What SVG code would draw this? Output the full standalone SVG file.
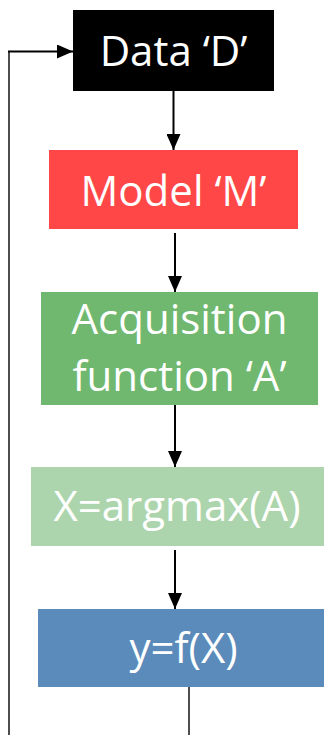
<svg xmlns="http://www.w3.org/2000/svg" width="324" height="735" viewBox="0 0 324 735">
<style>
.t{font-family:"Open Sans","Liberation Sans",sans-serif;font-size:42px;fill:#ffffff;text-anchor:middle}
.c{stroke:#000;stroke-width:2;fill:none}
.g{stroke:#4d4d4d;stroke-width:2;fill:none}
</style>
<defs>
<marker id="ah" markerWidth="16" markerHeight="14" refX="16" refY="7" orient="auto" markerUnits="userSpaceOnUse">
<path d="M0,0 L16,7 L0,14 Z" fill="#000"/>
</marker>
</defs>
<rect width="324" height="735" fill="#fff"/>
<g id="connectors">
<path class="g" d="M9,735 V51.5"/>
<path class="c" d="M8,51.5 H73" marker-end="url(#ah)"/>
<path class="c" d="M173.5,91 V150" marker-end="url(#ah)"/>
<path class="c" d="M175,233 V292" marker-end="url(#ah)"/>
<path class="c" d="M175,405 V467" marker-end="url(#ah)"/>
<path class="c" d="M175,550 V609" marker-end="url(#ah)"/>
<path class="g" d="M189,687 V735"/>
</g>
<g id="data">
<rect x="73" y="10" width="201" height="81" fill="#000"/>
<text class="t" x="173.5" y="66">Data ‘D’</text>
</g>
<g id="model">
<rect x="49" y="150" width="249" height="79" fill="#FF4747"/>
<text class="t" x="173.5" y="206">Model ‘M’</text>
</g>
<g id="acq">
<rect x="41" y="292" width="277" height="113" fill="#70B870"/>
<text class="t" x="179.5" y="334">Acquisition</text>
<text class="t" x="179.5" y="391">function ‘A’</text>
</g>
<g id="argmax">
<rect x="31" y="467" width="293" height="79" fill="#ADD5AD"/>
<text class="t" x="177" y="521">X=argmax(A)</text>
</g>
<g id="yfx">
<rect x="38" y="609" width="286" height="78" fill="#5A8BBB"/>
<text class="t" x="183.5" y="663">y=f(X)</text>
</g>
</svg>
